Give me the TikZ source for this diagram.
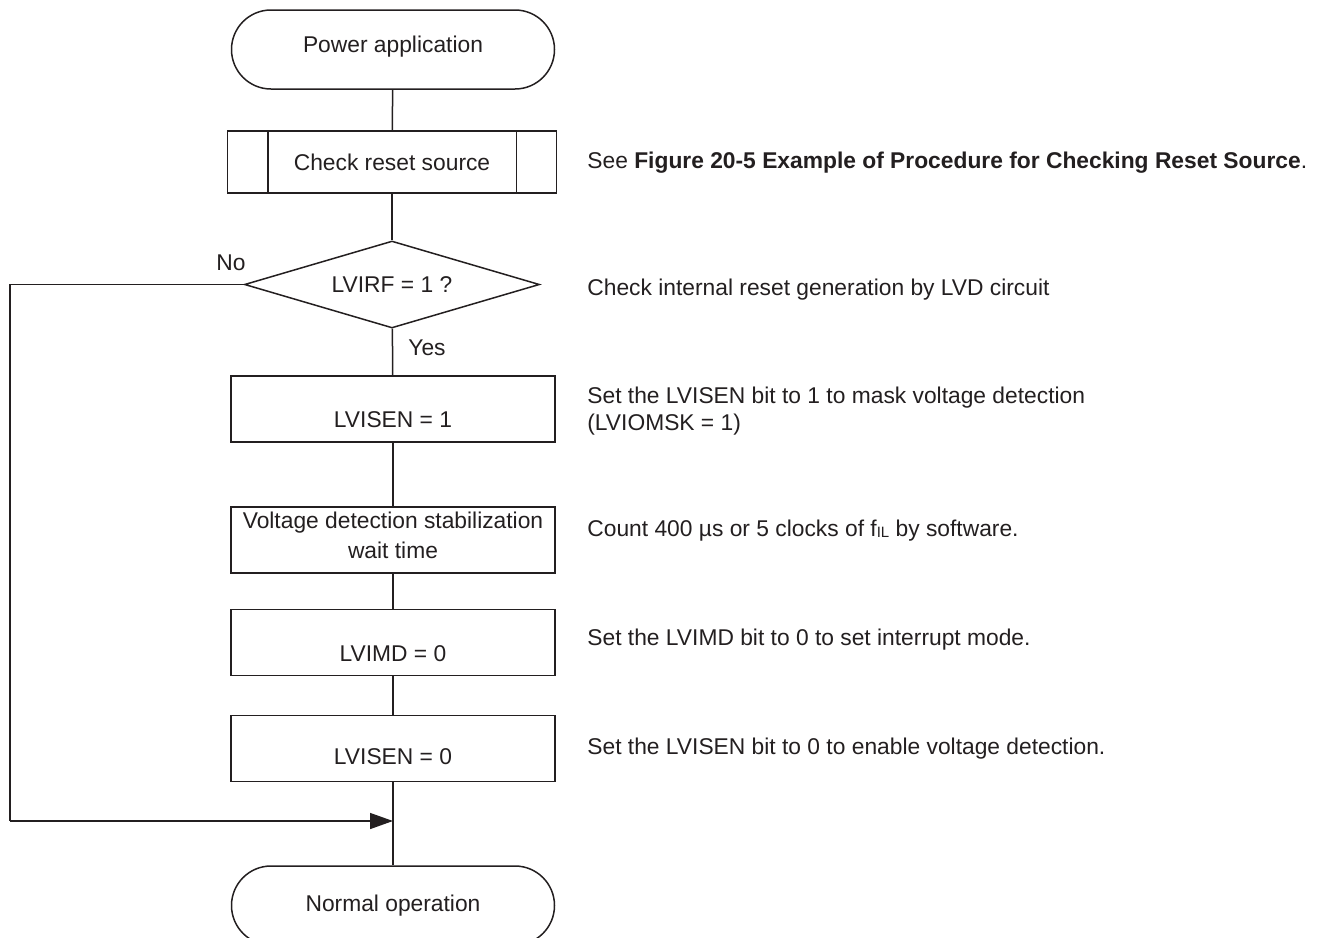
\documentclass[tikz,border=0pt]{standalone}
\usepackage{fontspec}
\setmainfont{Liberation Sans}
\usetikzlibrary{arrows.meta,shapes.geometric,calc}
\definecolor{inkcol}{HTML}{231F20}

\tikzset{
  flowline/.style={draw=inkcol,line width=0.75pt},
  termbox/.style={flowline,rectangle,rounded corners=19.75pt,minimum width=161.5pt,minimum height=39.5pt,inner sep=0pt},
  procbox/.style={flowline,rectangle,minimum width=162pt,minimum height=33pt,inner sep=0pt,align=center,text depth=0pt},
  subbox/.style={flowline,rectangle,minimum width=164.5pt,minimum height=31pt,inner sep=0pt},
  testbox/.style={flowline,diamond,aspect=3.4,minimum width=147.5pt,minimum height=43.5pt,inner sep=0pt},
  notetext/.style={anchor=west,inner sep=0pt,align=left}
}

\begin{document}
\begin{tikzpicture}[x=0.5pt,y=-0.5pt,>={Triangle[length=11.5pt,width=8pt]},
    every node/.style={text=inkcol,font=\fontsize{11.4}{14}\selectfont}]
  \useasboundingbox (0,0) rectangle (1322,937);
  \clip (0,0) rectangle (1322,937);

  % flow chart
  \node[termbox,text height=8.3pt,text depth=5.6pt] (start) at (393,49.5) {Power application};
  \node[subbox] (chk) at (392,162) {Check reset source};
  \draw[flowline] ($(chk.north west)+(41,0)$) -- ($(chk.south west)+(41,0)$);
  \draw[flowline] ($(chk.north east)+(-41,0)$) -- ($(chk.south east)+(-41,0)$);
  \node[testbox] (lvirf) at (392,284.5) {LVIRF = 1 ?};
  \node[procbox,text height=18.2pt] (sen1) at (393,409) {LVISEN = 1};
  \node[procbox] (wait) at (393,540) {};
  \node[align=center,inner sep=0pt] (waittxt) at (393,535) {Voltage detection stabilization\\[1pt]wait time};
  \node[procbox,text height=18.7pt] (lvimd) at (393,642.5) {LVIMD = 0};
  \node[procbox,text height=16.2pt] (sen0) at (393,748.5) {LVISEN = 0};
  \node[termbox] (stop) at (393,905.5) {Normal operation};

  \coordinate (join) at (393,821);
  \coordinate (nocorner) at (10,284.5);
  \coordinate (nobottom) at (10,821);

  \draw[flowline] (start) -- (chk);
  \draw[flowline] (chk) -- (lvirf);
  \draw[flowline] (lvirf) -- (sen1);
  \draw[flowline] (sen1) -- (wait);
  \draw[flowline] (wait) -- (lvimd);
  \draw[flowline] (lvimd) -- (sen0);
  \draw[flowline] (sen0) -- (stop);
  \draw[flowline] (lvirf.west) -- (nocorner) -- (nobottom);
  \draw[flowline,->,fill=inkcol] (nobottom) -- (join);

  \node (nolbl) at (231,263) {No};
  \node (yeslbl) at (427,348) {Yes};

  % notes on the right
  \node[notetext] (n1) at (587,163) {See \textbf{Figure 20-5 Example of Procedure for Checking Reset Source}.};
  \node[notetext] (n2) at (587,290) {Check internal reset generation by LVD circuit};
  \node[notetext] (n3) at (587,411) {Set the LVISEN bit to 1 to mask voltage detection\\[-0.5pt](LVIOMSK = 1)};
  \node[notetext] (n4) at (587,531) {Count 400 µs or 5 clocks of f\raisebox{-0.3pt}{\fontsize{7.5}{8}\selectfont IL} by software.};
  \node[notetext] (n5) at (587,640) {Set the LVIMD bit to 0 to set interrupt mode.};
  \node[notetext] (n6) at (587,749) {Set the LVISEN bit to 0 to enable voltage detection.};
\end{tikzpicture}
\end{document}
